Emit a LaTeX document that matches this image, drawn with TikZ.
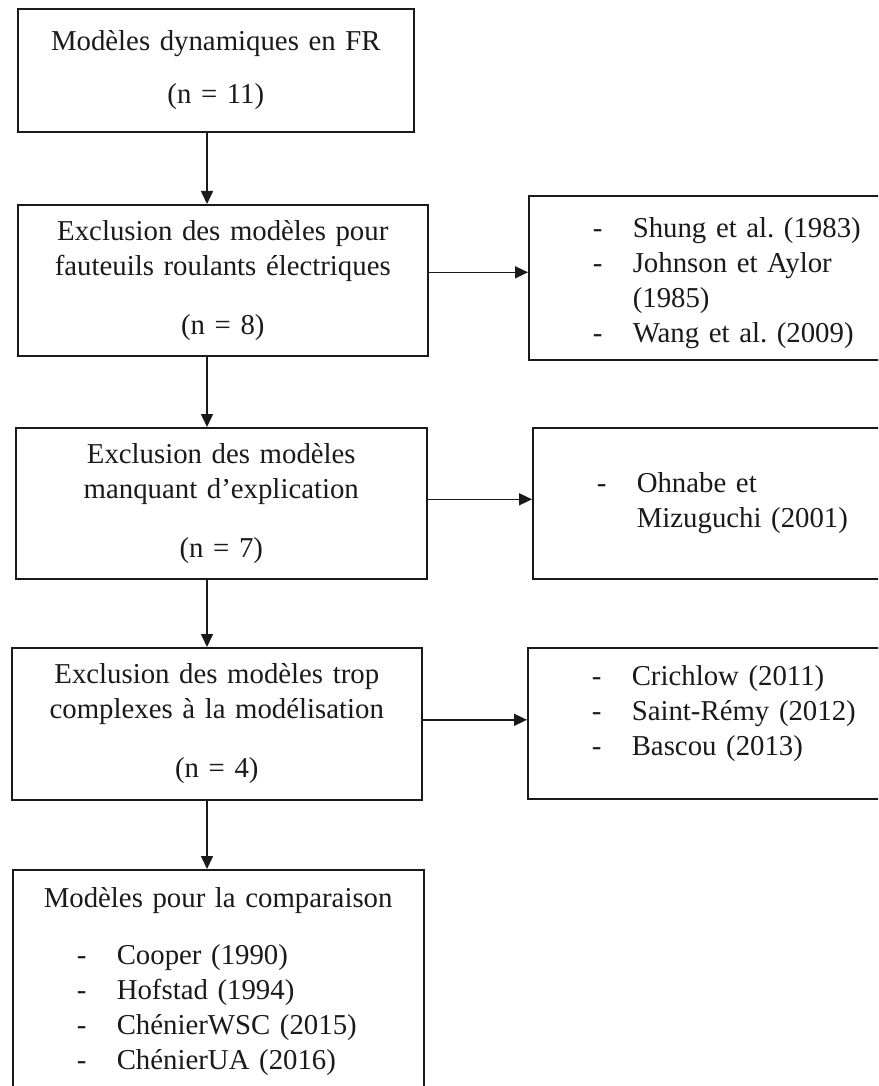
\documentclass[tikz,border=0pt]{standalone}
\usepackage{fontspec}
\setmainfont{Liberation Serif}
\usepackage{xcolor}
\usepackage{tikz}
\usetikzlibrary{arrows.meta}
\definecolor{ink}{HTML}{1A1A1A}
\newcommand{\dashitem}{\hspace*{52pt}\makebox[40pt][l]{-}}
\newcommand{\contline}{\hspace*{92pt}}
\frenchspacing
\begin{document}
\begin{tikzpicture}[x=1pt,y=-1pt,
    stage/.style={draw=ink, line width=1.6pt, fill=white, inner xsep=12pt,
      anchor=north west, align=center, text=ink,
      font=\fontsize{28.8}{35}\selectfont},
    note/.style={stage, align=left, minimum width=400pt, text width=376pt},
    flow/.style={draw=ink, line width=1.6pt, -{Triangle[length=13pt,width=12pt]}}]
  \useasboundingbox (0,0) rectangle (878,1086);
  \clip (0,0) rectangle (878,1086);
  \coordinate (spine) at (207,0);
  \node[stage, minimum width=396pt, minimum height=123pt, text width=372pt] (b1) at (17,8) {%
    Modèles dynamiques en FR\\[18pt]
    (n = 11)};
  \node[stage, minimum width=410pt, minimum height=151pt, text width=386pt] (b2) at (17,204) {%
    Exclusion des modèles pour\\
    fauteuils roulants électriques\\[24pt]
    (n = 8)};
  \node[stage, minimum width=411pt, minimum height=151pt, text width=387pt] (b3) at (15,427) {%
    Exclusion des modèles\\
    manquant d’explication\\[24pt]
    (n = 7)};
  \node[stage, minimum width=410pt, minimum height=152pt, text width=386pt] (b4) at (11,647) {%
    Exclusion des modèles trop\\
    complexes à la modélisation\\[24pt]
    (n = 4)};
  \node[stage, align=left, minimum width=411pt, text width=387pt, inner ysep=18pt] (b5) at (12,869) {%
    \hspace*{19pt}Modèles pour la comparaison\\[22pt]
    \dashitem Cooper (1990)\\
    \dashitem Hofstad (1994)\\
    \dashitem ChénierWSC (2015)\\
    \dashitem ChénierUA (2016)};
  \node[note, minimum height=164pt, text height=30pt] (r1) at (528,195) {%
    \dashitem Shung et al. (1983)\\
    \dashitem Johnson et Aylor\\
    \contline (1985)\\
    \dashitem Wang et al. (2009)};
  \node[note, minimum height=151pt] (r2) at (532,427) {%
    \dashitem Ohnabe et\\
    \contline Mizuguchi (2001)};
  \node[note, minimum height=151pt, text depth=96pt] (r3) at (527,647) {%
    \dashitem Crichlow (2011)\\
    \dashitem Saint-Rémy (2012)\\
    \dashitem Bascou (2013)};
  \draw[flow] (b1.south -| spine) -- (b2.north -| spine);
  \draw[flow] (b2.south -| spine) -- (b3.north -| spine);
  \draw[flow] (b3.south -| spine) -- (b4.north -| spine);
  \draw[flow] (b4.south -| spine) -- (b5.north -| spine);
  \draw[flow] ([yshift=8pt]b2.east) -- ([yshift=8pt]b2.east -| r1.west);
  \draw[flow] ([yshift=4pt]b3.east) -- ([yshift=4pt]b3.east -| r2.west);
  \draw[flow] ([yshift=4pt]b4.east) -- ([yshift=4pt]b4.east -| r3.west);
\end{tikzpicture}
\end{document}
